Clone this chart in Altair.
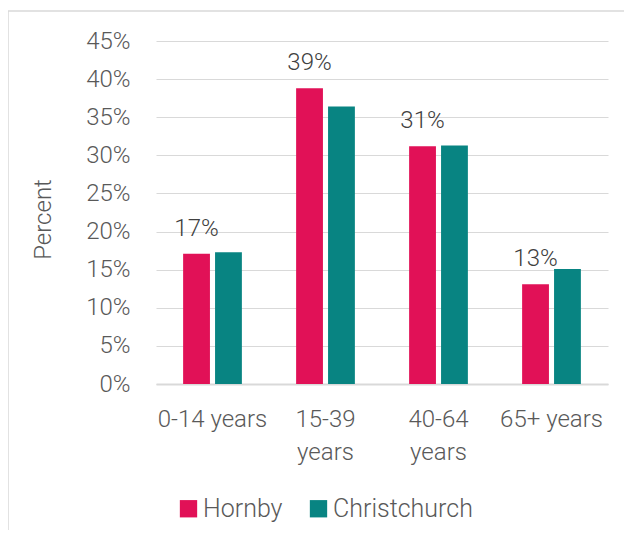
import altair as alt
import pandas as pd

categories = ["0-14 years", "15-39 years", "40-64 years", "65+ years"]
areas = ["Hornby", "Christchurch"]
hornby = [17.1, 38.8, 31.2, 13.1]
christchurch = [17.3, 36.4, 31.3, 15.1]
colors = ["#E11157", "#088482"]
y_ticks = [0, 5, 10, 15, 20, 25, 30, 35, 40, 45]

rows = []
for c, h, ch in zip(categories, hornby, christchurch):
    rows.append({"age": c, "area": "Hornby", "value": h})
    rows.append({"age": c, "area": "Christchurch", "value": ch})
df = pd.DataFrame(rows)

FONT = "Roboto"
GREY = "#595959"
LINE = "#d9d9d9"

x_enc = alt.X(
    "age:N",
    sort=categories,
    scale=alt.Scale(domain=categories, paddingInner=0.48, paddingOuter=0.24),
    axis=alt.Axis(
        title=None,
        labelAngle=0,
        labelFont=FONT,
        labelFontSize=24,
        labelFontWeight=300,
        labelColor=GREY,
        labelPadding=23,
        labelBaseline="top",
        labelLineHeight=33,
        labelExpr="(datum.label == '15-39 years' || datum.label == '40-64 years') ? split(datum.label, ' ') : datum.label",
        ticks=False,
        domainColor=LINE,
        domainWidth=2,
        grid=False,
    ),
)
xoff_enc = alt.XOffset(
    "area:N",
    sort=areas,
    scale=alt.Scale(domain=areas, paddingInner=0.16, paddingOuter=0),
)
y_enc = alt.Y(
    "value:Q",
    scale=alt.Scale(domain=[0, 45], nice=False),
    axis=alt.Axis(
        values=y_ticks,
        labelExpr="datum.value + '%'",
        labelFont=FONT,
        labelFontSize=24,
        labelFontWeight=300,
        labelColor=GREY,
        labelPadding=26,
        ticks=False,
        domain=False,
        gridColor=LINE,
        gridWidth=1.2,
        title="Percent",
        titleFont=FONT,
        titleFontSize=24,
        titleFontWeight=300,
        titleColor=GREY,
        titleAlign="center",
        titleBaseline="middle",
        titleAngle=270,
        titleX=-113,
        titleY=178,
    ),
)

bars = alt.Chart(df).mark_bar().encode(
    x=x_enc,
    xOffset=xoff_enc,
    y=y_enc,
    color=alt.Color(
        "area:N",
        sort=areas,
        scale=alt.Scale(domain=areas, range=colors),
        legend=alt.Legend(
            title=None,
            orient="none",
            legendX=20,
            legendY=455,
            direction="horizontal",
            symbolType="square",
            symbolSize=300,
            symbolStrokeWidth=0,
            labelFont=FONT,
            labelFontSize=25,
            labelFontWeight=300,
            labelColor=GREY,
            labelOffset=2,
            columnPadding=23,
        ),
    ),
)

labels = (
    alt.Chart(df)
    .transform_filter(alt.datum.area == "Hornby")
    .transform_calculate(lab="format(datum.value, '.0f') + '%'")
    .mark_text(font=FONT, fontSize=24, fontWeight=300, color="#404040", baseline="alphabetic", dy=-18)
    .encode(x=x_enc, xOffset=xoff_enc, y=y_enc, text="lab:N")
)

frame_df = pd.DataFrame({"k": [0]})
frame_top = alt.Chart(frame_df).mark_rule(color=LINE, strokeWidth=1.5).encode(
    x=alt.value(-148), x2=alt.value(700), y=alt.value(-30)
)
frame_left = alt.Chart(frame_df).mark_rule(color=LINE, strokeWidth=1.5).encode(
    x=alt.value(-148), y=alt.value(-30), y2=alt.value(600)
)

chart = (
    alt.layer(frame_top, frame_left, bars, labels)
    .properties(
        width=452,
        height=343,
        autosize=alt.AutoSizeParams(type="none"),
        padding={"left": 148, "top": 33, "right": 16, "bottom": 146},
        background="white",
    )
    .configure_view(stroke=None)
)

chart.save("out.html", embed_options={"renderer": "svg", "actions": False})
